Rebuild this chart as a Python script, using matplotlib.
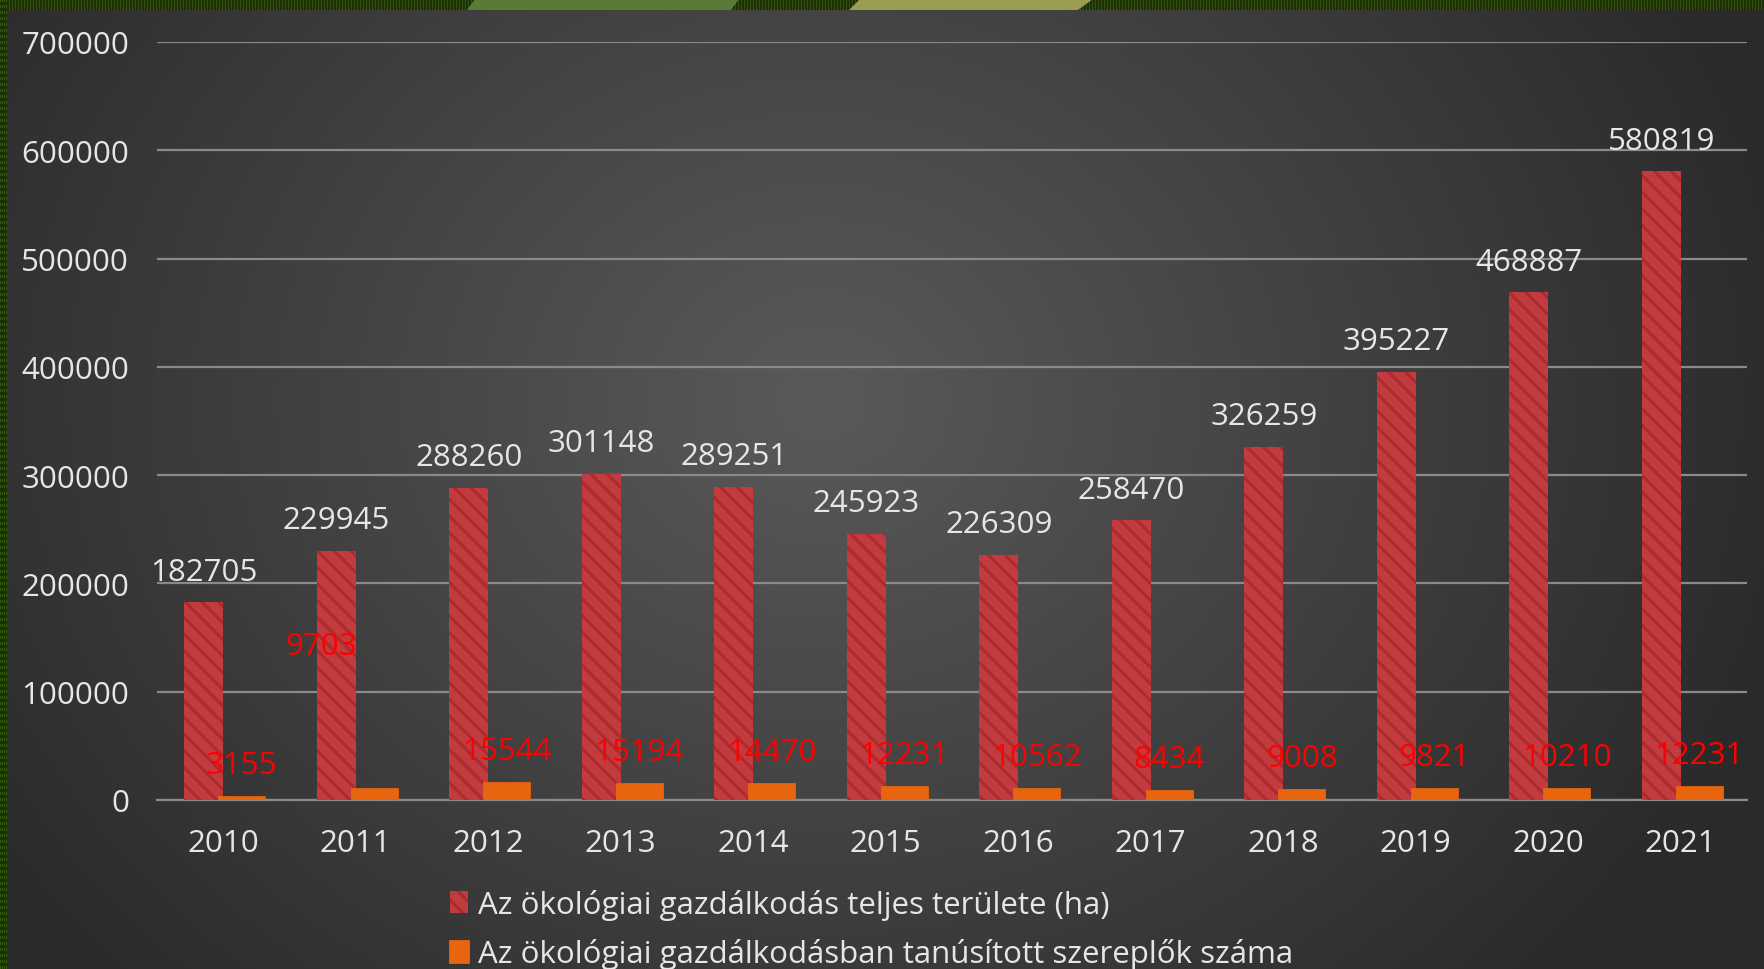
import numpy as np
import matplotlib
matplotlib.use("Agg")
import matplotlib.pyplot as plt
from matplotlib.patches import Polygon

plt.rcParams['font.family'] = ['Open Sans', 'DejaVu Sans']
plt.rcParams['hatch.linewidth'] = 2.2

# adatok
years = ['2010', '2011', '2012', '2013', '2014', '2015', '2016', '2017', '2018', '2019', '2020', '2021']
area_ha = [182705, 229945, 288260, 301148, 289251, 245923, 226309, 258470, 326259, 395227, 468887, 580819]
actors = [3155, 9703, 15544, 15194, 14470, 12231, 10562, 8434, 9008, 9821, 10210, 12231]
yticks = [0, 100000, 200000, 300000, 400000, 500000, 600000, 700000]
label_area = 'Az ökológiai gazdálkodás teljes területe (ha)'
label_actors = 'Az ökológiai gazdálkodásban tanúsított szereplők száma'

W, H = 1764, 970
TXT = '#e6e6e6'
RED = '#c23c3f'
RED_HATCH = '#ad2b2f'
ORANGE = '#e8650f'
GRID = '#8a8a8a'
FS = 22.5

fig = plt.figure(figsize=(W / 100, H / 100), dpi=100)

# háttér: sugaras szürke átmenet + zöld keret
bg = fig.add_axes([0, 0, 1, 1], zorder=-10)
bg.axis('off')
yy, xx = np.mgrid[0:H:2, 0:W:2]
r = np.sqrt((xx - 820) ** 2 + ((yy - 400) / 0.85) ** 2) / 1000
val = 90 - 48 * np.clip(r, 0, 1)
img = np.dstack([val, val, val]) / 255.0
bg.imshow(img, extent=[0, W, H, 0], aspect='auto', interpolation='bilinear')

stripe = np.zeros((11, W, 3))
stripe[:] = np.array([28, 48, 6]) / 255
stripe[:, ::3] = np.array([52, 84, 14]) / 255
bg.imshow(stripe, extent=[0, W, 11, 0], aspect='auto', interpolation='nearest')
left = np.zeros((H // 3, 7, 3))
left[:] = np.array([28, 48, 6]) / 255
left[::2, ::2] = np.array([52, 90, 14]) / 255
bg.imshow(left, extent=[0, 7, H, 0], aspect='auto', interpolation='nearest')
bg.add_patch(Polygon([(467, 11), (731, 11), (739, 0), (475, 0)], closed=True, color='#5b7a36', lw=0))
bg.add_patch(Polygon([(849, 11), (1078, 11), (1093, 0), (860, 0)], closed=True, color='#9a9d50', lw=0))
bg.set_xlim(0, W)
bg.set_ylim(H, 0)

# fő diagram
ax = fig.add_axes([157 / W, 1 - 801 / H, 1590 / W, 758 / H])
ax.patch.set_alpha(0)
x = np.arange(len(years))
w_red, w_or = 0.295, 0.34
b1 = ax.bar(x - w_red / 2, area_ha, width=w_red, color=RED, edgecolor=RED_HATCH,
            hatch='\\\\', linewidth=0, label=label_area, zorder=3)
b2 = ax.bar(x - 0.03 + w_or / 2, actors, width=w_or, color=ORANGE, edgecolor=ORANGE,
            linewidth=2, label=label_actors, zorder=3)

for xi, v in zip(x, area_ha):
    ax.annotate(str(v), (xi - w_red / 2, v), xytext=(0, 22), textcoords='offset points',
                ha='center', va='center', color=TXT, fontsize=FS)
for i, (xi, v) in enumerate(zip(x, actors)):
    off = (-38, 103) if years[i] == '2011' else (0, 23)
    ax.annotate(str(v), (xi - 0.03 + w_or / 2, v), xytext=off, textcoords='offset points',
                ha='center', va='center', color='#ff0000', fontsize=FS)

ax.set_xlim(-0.5, len(years) - 0.5)
ax.set_ylim(0, 700000)
ax.set_yticks(yticks)
ax.set_yticklabels([str(t) for t in yticks])
ax.set_xticks(x)
ax.set_xticklabels(years)
ax.tick_params(axis='y', length=0, pad=20, labelsize=FS, labelcolor=TXT)
ax.tick_params(axis='x', length=0, pad=20, labelsize=FS, labelcolor=TXT)
ax.grid(axis='y', color=GRID, lw=1.6)
ax.set_axisbelow(True)
for s in ['top', 'right', 'left']:
    ax.spines[s].set_visible(False)
ax.spines['bottom'].set_color(GRID)
ax.spines['bottom'].set_linewidth(1.6)

leg = fig.legend(handles=[b1, b2], labels=[label_area, label_actors], loc='upper left',
                 bbox_to_anchor=(434 / W, 1 - 874 / H), frameon=False, borderpad=0,
                 handlelength=0.6, handleheight=0.7, handletextpad=0.3, labelspacing=0.6,
                 prop={'size': FS})
for t in leg.get_texts():
    t.set_color(TXT)

fig.savefig('out.png', dpi=100)
